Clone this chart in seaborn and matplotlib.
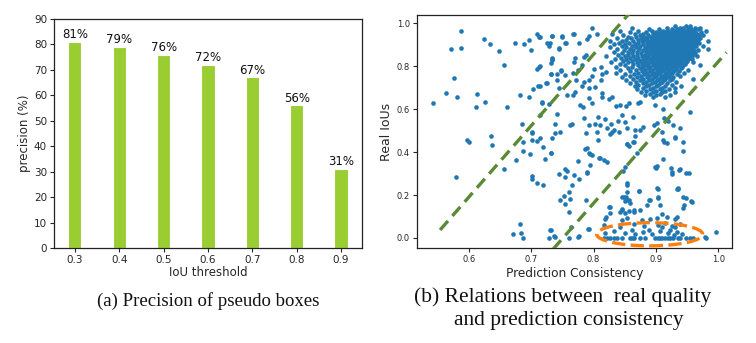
import matplotlib
matplotlib.use("Agg")
import matplotlib.pyplot as plt
from matplotlib.patches import Ellipse
import seaborn as sns
import pandas as pd

# ---- (a) precision of pseudo boxes per IoU threshold ----
iou_thresholds = ["0.3", "0.4", "0.5", "0.6", "0.7", "0.8", "0.9"]
precision = [81, 79, 76, 72, 67, 56, 31]

# ---- (b) prediction consistency vs. real IoU ----
# scattered boxes far from the dense corner
spread_pts = [
    (0.543, 0.630), (0.587, 0.964), (0.572, 0.880), (0.587, 0.887), (0.577, 0.747),
    (0.563, 0.674), (0.581, 0.655), (0.613, 0.672), (0.612, 0.612), (0.626, 0.632),
    (0.625, 0.927), (0.634, 0.902), (0.649, 0.873), (0.656, 0.806), (0.661, 0.610),
    (0.674, 0.907), (0.688, 0.903), (0.696, 0.921), (0.700, 0.876), (0.710, 0.950),
    (0.713, 0.938), (0.710, 0.787), (0.714, 0.801), (0.703, 0.694), (0.711, 0.709),
    (0.724, 0.724), (0.734, 0.943), (0.725, 0.907), (0.734, 0.829), (0.734, 0.837),
    (0.731, 0.764), (0.742, 0.736), (0.748, 0.780), (0.749, 0.938), (0.756, 0.907),
    (0.767, 0.953), (0.697, 0.659), (0.682, 0.666), (0.717, 0.629), (0.685, 0.531),
    (0.701, 0.493), (0.597, 0.457), (0.600, 0.447), (0.636, 0.475), (0.638, 0.433),
    (0.580, 0.283), (0.657, 0.321), (0.675, 0.363), (0.687, 0.446), (0.687, 0.404),
    (0.701, 0.488), (0.702, 0.457), (0.710, 0.453), (0.714, 0.466), (0.698, 0.393),
    (0.702, 0.290), (0.702, 0.273), (0.709, 0.255), (0.719, 0.425), (0.719, 0.245),
    (0.682, 0.065), (0.684, 0.022), (0.671, 0.016), (0.687, 0.000), (0.732, 0.398),
    (0.722, 0.368), (0.728, 0.000), (0.730, 0.037), (0.737, 0.011),
]

# boxes in the middle band between the two guide lines
mid_pts = [
    (0.714, 0.938), (0.730, 0.907), (0.728, 0.896), (0.734, 0.942), (0.749, 0.942),
    (0.768, 0.952), (0.755, 0.910), (0.745, 0.887), (0.744, 0.879), (0.777, 0.910),
    (0.790, 0.927), (0.797, 0.977), (0.793, 0.942), (0.806, 0.953), (0.734, 0.832),
    (0.731, 0.816), (0.748, 0.783), (0.731, 0.762), (0.742, 0.762), (0.754, 0.759),
    (0.713, 0.798), (0.714, 0.710), (0.725, 0.721), (0.744, 0.700), (0.757, 0.666),
    (0.718, 0.632), (0.728, 0.623), (0.741, 0.578), (0.714, 0.573), (0.739, 0.533),
    (0.771, 0.837), (0.768, 0.822), (0.784, 0.845), (0.788, 0.852), (0.782, 0.806),
    (0.775, 0.783), (0.767, 0.767), (0.772, 0.736), (0.784, 0.728), (0.793, 0.736),
    (0.798, 0.756), (0.801, 0.787), (0.812, 0.798), (0.814, 0.762), (0.820, 0.772),
    (0.812, 0.736), (0.802, 0.705), (0.792, 0.697), (0.782, 0.710), (0.770, 0.679),
    (0.767, 0.666), (0.779, 0.620), (0.783, 0.612), (0.793, 0.654), (0.798, 0.627),
    (0.814, 0.674), (0.814, 0.658), (0.825, 0.647), (0.830, 0.658), (0.836, 0.615),
    (0.843, 0.621), (0.852, 0.615), (0.857, 0.630), (0.872, 0.627), (0.864, 0.565),
    (0.845, 0.573), (0.839, 0.545), (0.828, 0.533), (0.819, 0.556), (0.807, 0.564),
    (0.802, 0.533), (0.810, 0.525), (0.792, 0.525), (0.784, 0.559), (0.766, 0.533),
    (0.762, 0.525), (0.746, 0.494), (0.851, 0.542), (0.854, 0.511), (0.867, 0.503),
    (0.875, 0.503), (0.822, 0.511), (0.833, 0.503),
]

# boxes with lower IoU
low_pts = [
    (0.739, 0.487), (0.734, 0.464), (0.731, 0.397), (0.788, 0.487), (0.787, 0.413),
    (0.792, 0.397), (0.798, 0.386), (0.795, 0.340), (0.775, 0.360), (0.755, 0.320),
    (0.758, 0.310), (0.745, 0.298), (0.755, 0.283), (0.768, 0.294), (0.777, 0.275),
    (0.789, 0.308), (0.766, 0.247), (0.760, 0.216), (0.752, 0.195), (0.746, 0.177),
    (0.762, 0.180), (0.754, 0.158), (0.761, 0.123), (0.807, 0.456), (0.810, 0.371),
    (0.822, 0.355), (0.826, 0.484), (0.829, 0.495), (0.840, 0.495), (0.854, 0.438),
    (0.857, 0.429), (0.865, 0.449), (0.867, 0.475), (0.869, 0.398), (0.851, 0.329),
    (0.848, 0.310), (0.854, 0.255), (0.854, 0.216), (0.852, 0.193), (0.857, 0.177),
    (0.873, 0.218), (0.845, 0.190), (0.850, 0.171), (0.845, 0.130), (0.850, 0.118),
    (0.857, 0.127), (0.865, 0.122), (0.874, 0.130), (0.826, 0.146), (0.827, 0.115),
    (0.820, 0.096), (0.791, 0.040), (0.775, 0.006), (0.764, 0.050), (0.731, 0.037),
    (0.739, 0.006), (0.760, 0.000), (0.777, 0.009), (0.790, 0.418), (0.795, 0.390),
    (0.789, 0.304), (0.809, 0.372), (0.817, 0.364), (0.805, 0.495), (0.853, 0.438),
    (0.863, 0.449), (0.854, 0.247), (0.901, 0.335), (0.900, 0.324), (0.912, 0.366),
    (0.925, 0.297), (0.937, 0.317), (0.949, 0.303), (0.953, 0.303), (0.934, 0.227),
    (0.917, 0.444), (0.931, 0.469), (0.909, 0.495), (0.899, 0.620), (0.912, 0.600),
    (0.913, 0.557), (0.920, 0.545), (0.928, 0.526), (0.939, 0.514), (0.901, 0.534),
    (0.897, 0.526), (0.879, 0.518), (0.955, 0.589), (0.911, 0.457), (0.913, 0.446),
    (0.930, 0.467), (0.944, 0.449), (0.943, 0.405), (0.899, 0.332), (0.924, 0.327),
    (0.926, 0.309), (0.938, 0.321), (0.875, 0.635), (0.788, 0.177), (0.792, 0.040),
]

# boxes with near-zero IoU despite high consistency
floor_pts = [
    (0.816, 0.000), (0.821, 0.000), (0.827, 0.000), (0.833, 0.000), (0.838, 0.000),
    (0.846, 0.000), (0.858, 0.000), (0.862, 0.000), (0.865, 0.000), (0.874, 0.000),
    (0.883, 0.000), (0.899, 0.000), (0.903, 0.000), (0.906, 0.000), (0.910, 0.000),
    (0.915, 0.000), (0.919, 0.000), (0.923, 0.000), (0.927, 0.000), (0.935, 0.000),
    (0.939, 0.000), (0.949, 0.000), (0.955, 0.000), (0.960, 0.000), (0.980, 0.000),
    (0.819, 0.025), (0.833, 0.030), (0.851, 0.022), (0.862, 0.035), (0.867, 0.020),
    (0.880, 0.028), (0.889, 0.036), (0.894, 0.018), (0.907, 0.030), (0.919, 0.024),
    (0.923, 0.037), (0.929, 0.015), (0.934, 0.028), (0.942, 0.020), (0.997, 0.029),
    (0.816, 0.060), (0.843, 0.052), (0.865, 0.066), (0.881, 0.055), (0.904, 0.062),
    (0.910, 0.050), (0.914, 0.068), (0.926, 0.057), (0.931, 0.049), (0.939, 0.064),
    (0.819, 0.088), (0.846, 0.085), (0.854, 0.092), (0.878, 0.083), (0.891, 0.090),
    (0.902, 0.095), (0.931, 0.086), (0.825, 0.143), (0.842, 0.123), (0.846, 0.133),
    (0.849, 0.192), (0.854, 0.177), (0.859, 0.161), (0.865, 0.130), (0.873, 0.220),
    (0.889, 0.177), (0.904, 0.188), (0.903, 0.227), (0.935, 0.227), (0.945, 0.154),
    (0.949, 0.188), (0.958, 0.169), (0.934, 0.099), (0.902, 0.232), (0.935, 0.232),
    (0.903, 0.189), (0.890, 0.178), (0.944, 0.189), (0.957, 0.170), (0.944, 0.139),
    (0.907, 0.155), (0.886, 0.152), (0.910, 0.110), (0.918, 0.098), (0.979, 0.002),
]

# dense corner of consistent, well-localised boxes: (IoU, [consistency values])
cluster_rows = [
    (0.988, [0.931, 0.948, 0.955]),
    (0.981, [0.862, 0.918, 0.938, 0.944, 0.962, 0.970]),
    (0.974, [0.889, 0.905, 0.926, 0.934, 0.951, 0.957, 0.968]),
    (0.967, [0.842, 0.872, 0.893, 0.912, 0.920, 0.929, 0.941, 0.946, 0.953, 0.960, 0.981]),
    (0.960, [0.858, 0.884, 0.900, 0.908, 0.916, 0.924, 0.933, 0.937, 0.944, 0.950, 0.956, 0.963, 0.972]),
    (0.953, [0.830, 0.866, 0.879, 0.895, 0.903, 0.911, 0.919, 0.927, 0.931, 0.939, 0.943, 0.948, 0.953, 0.959, 0.966]),
    (0.946, [0.847, 0.874, 0.887, 0.898, 0.906, 0.914, 0.921, 0.926, 0.934, 0.941, 0.946, 0.951, 0.957, 0.962, 0.969, 0.975]),
    (0.939, [0.855, 0.868, 0.881, 0.892, 0.901, 0.909, 0.917, 0.924, 0.929, 0.936, 0.939, 0.944, 0.949, 0.955, 0.960, 0.966]),
    (0.932, [0.838, 0.860, 0.876, 0.886, 0.896, 0.904, 0.912, 0.919, 0.927, 0.932, 0.938, 0.942, 0.947, 0.952, 0.958, 0.963, 0.971]),
    (0.925, [0.852, 0.871, 0.883, 0.893, 0.899, 0.908, 0.915, 0.923, 0.929, 0.935, 0.940, 0.945, 0.950, 0.956, 0.961, 0.967]),
    (0.918, [0.826, 0.845, 0.864, 0.878, 0.889, 0.902, 0.911, 0.918, 0.925, 0.931, 0.937, 0.943, 0.948, 0.953, 0.959, 0.964, 0.984]),
    (0.911, [0.840, 0.857, 0.872, 0.885, 0.895, 0.905, 0.914, 0.921, 0.928, 0.934, 0.940, 0.946, 0.951, 0.956, 0.962, 0.969]),
    (0.904, [0.833, 0.850, 0.866, 0.879, 0.891, 0.899, 0.909, 0.916, 0.923, 0.930, 0.936, 0.942, 0.948, 0.954, 0.960]),
    (0.897, [0.845, 0.861, 0.875, 0.887, 0.896, 0.904, 0.912, 0.919, 0.926, 0.933, 0.939, 0.945, 0.950, 0.957, 0.964, 0.975]),
    (0.890, [0.826, 0.852, 0.868, 0.882, 0.892, 0.901, 0.908, 0.915, 0.922, 0.929, 0.935, 0.941, 0.947, 0.953, 0.960]),
    (0.883, [0.838, 0.858, 0.873, 0.886, 0.897, 0.905, 0.913, 0.920, 0.927, 0.933, 0.939, 0.944, 0.950, 0.956, 0.984]),
    (0.876, [0.849, 0.864, 0.879, 0.890, 0.900, 0.909, 0.917, 0.924, 0.931, 0.937, 0.943, 0.949, 0.955, 0.961, 0.967]),
    (0.869, [0.832, 0.855, 0.870, 0.884, 0.895, 0.904, 0.912, 0.919, 0.926, 0.933, 0.940, 0.946, 0.952, 0.958]),
    (0.862, [0.846, 0.862, 0.876, 0.889, 0.899, 0.907, 0.915, 0.922, 0.929, 0.936, 0.943, 0.949, 0.956, 0.963]),
    (0.855, [0.839, 0.856, 0.869, 0.882, 0.894, 0.903, 0.911, 0.918, 0.925, 0.932, 0.939, 0.945, 0.952, 0.960]),
    (0.848, [0.820, 0.851, 0.864, 0.877, 0.888, 0.898, 0.907, 0.915, 0.922, 0.929, 0.936, 0.942, 0.949, 0.955, 0.966]),
    (0.841, [0.844, 0.858, 0.872, 0.884, 0.894, 0.903, 0.911, 0.919, 0.926, 0.933, 0.940, 0.947, 0.953]),
    (0.834, [0.835, 0.852, 0.866, 0.879, 0.890, 0.899, 0.908, 0.916, 0.923, 0.930, 0.937, 0.944, 0.951, 0.958]),
    (0.827, [0.848, 0.861, 0.874, 0.886, 0.896, 0.905, 0.913, 0.920, 0.928, 0.935, 0.942, 0.950]),
    (0.820, [0.828, 0.855, 0.869, 0.881, 0.892, 0.901, 0.910, 0.918, 0.925, 0.933, 0.940, 0.948, 0.960]),
    (0.813, [0.842, 0.864, 0.877, 0.888, 0.898, 0.907, 0.915, 0.923, 0.931, 0.939, 0.946]),
    (0.806, [0.851, 0.872, 0.884, 0.895, 0.904, 0.912, 0.920, 0.929, 0.937, 0.944, 0.970]),
    (0.799, [0.836, 0.862, 0.879, 0.891, 0.901, 0.910, 0.918, 0.926, 0.934, 0.942]),
    (0.792, [0.855, 0.874, 0.887, 0.898, 0.907, 0.916, 0.924, 0.932, 0.940]),
    (0.785, [0.843, 0.868, 0.883, 0.894, 0.904, 0.913, 0.921, 0.930, 0.952]),
    (0.778, [0.858, 0.878, 0.890, 0.901, 0.910, 0.919, 0.928, 0.937]),
    (0.771, [0.836, 0.872, 0.886, 0.897, 0.907, 0.916, 0.925, 0.945]),
    (0.764, [0.850, 0.865, 0.881, 0.893, 0.904, 0.914, 0.923, 0.933]),
    (0.757, [0.858, 0.876, 0.889, 0.900, 0.911, 0.921, 0.938]),
    (0.750, [0.845, 0.870, 0.885, 0.897, 0.908, 0.918, 0.928]),
    (0.743, [0.863, 0.880, 0.893, 0.905, 0.915, 0.926, 0.960]),
    (0.736, [0.852, 0.874, 0.889, 0.901, 0.912, 0.923]),
    (0.729, [0.868, 0.884, 0.898, 0.910, 0.932]),
    (0.722, [0.858, 0.879, 0.894, 0.907, 0.918]),
    (0.715, [0.872, 0.889, 0.904, 0.925]),
    (0.708, [0.866, 0.884, 0.900, 0.915, 0.940]),
    (0.701, [0.879, 0.895, 0.910, 0.930]),
    (0.694, [0.870, 0.890, 0.906, 0.921]),
    (0.687, [0.884, 0.900, 0.915]),
    (0.680, [0.876, 0.895, 0.910, 0.930]),
    (0.673, [0.890, 0.906]),
    (0.666, [0.882, 0.900, 0.922]),
    (0.656, [0.895, 0.915]),
    # the most crowded part of the corner
    (0.957, [0.904, 0.913, 0.922, 0.935, 0.941, 0.947, 0.954, 0.962]),
    (0.950, [0.899, 0.907, 0.915, 0.923, 0.929, 0.937, 0.944, 0.950, 0.956, 0.963]),
    (0.943, [0.905, 0.913, 0.920, 0.927, 0.933, 0.942, 0.947, 0.953, 0.958]),
    (0.936, [0.900, 0.908, 0.916, 0.922, 0.930, 0.935, 0.941, 0.945, 0.950, 0.955, 0.961]),
    (0.929, [0.895, 0.903, 0.911, 0.919, 0.926, 0.933, 0.938, 0.943, 0.948, 0.953, 0.958, 0.964]),
    (0.922, [0.906, 0.914, 0.921, 0.928, 0.934, 0.940, 0.946, 0.951, 0.956, 0.961]),
    (0.915, [0.898, 0.907, 0.915, 0.924, 0.930, 0.936, 0.942, 0.949, 0.954, 0.960, 0.966]),
    (0.908, [0.902, 0.911, 0.918, 0.925, 0.932, 0.939, 0.944, 0.949, 0.958]),
    (0.901, [0.895, 0.905, 0.913, 0.920, 0.928, 0.935, 0.941, 0.946, 0.952, 0.957]),
    (0.894, [0.899, 0.908, 0.916, 0.923, 0.930, 0.937, 0.943, 0.948, 0.955]),
    (0.887, [0.903, 0.911, 0.918, 0.925, 0.931, 0.937, 0.942, 0.947, 0.953]),
    (0.880, [0.895, 0.905, 0.914, 0.921, 0.928, 0.935, 0.940, 0.946, 0.952]),
    (0.873, [0.900, 0.909, 0.916, 0.923, 0.930, 0.936, 0.943, 0.949]),
    (0.866, [0.902, 0.910, 0.918, 0.925, 0.932, 0.939, 0.945]),
    (0.859, [0.905, 0.913, 0.921, 0.928, 0.935, 0.942]),
    (0.852, [0.900, 0.909, 0.917, 0.924, 0.931, 0.938]),
]

# two dashed guide lines and the highlighted low-IoU group
upper_guide_x = [0.554, 0.870]
upper_guide_y = [0.037, 1.089]
lower_guide_x = [0.735, 1.013]
lower_guide_y = [-0.053, 0.865]
ring_center = (0.890, 0.017)
ring_width, ring_height = 0.170, 0.108

# ---- assemble the scatter table ----
cluster_pts = [(c, iou) for iou, cs in cluster_rows for c in cs]
all_pts = spread_pts + mid_pts + low_pts + floor_pts + cluster_pts
scatter_df = pd.DataFrame(all_pts, columns=["consistency", "iou"])

sns.set_theme(style="ticks", context="paper")
plt.rcParams["font.family"] = ["DejaVu Sans"]
plt.rcParams["axes.edgecolor"] = "#222222"
plt.rcParams["axes.linewidth"] = 0.9

fig = plt.figure(figsize=(7.56, 3.43), dpi=100)
ax_bar = fig.add_axes([0.0714, 0.277, 0.4074, 0.668])
ax_sc = fig.add_axes([0.5516, 0.277, 0.4167, 0.679])

# ---- bar chart ----
bar_df = pd.DataFrame({"threshold": iou_thresholds, "precision": precision})
sns.barplot(data=bar_df, x="threshold", y="precision", color="yellowgreen",
            saturation=1, width=0.3, ax=ax_bar)
ax_bar.bar_label(ax_bar.containers[0], labels=[f"{v}%" for v in precision],
                 padding=0.5, fontsize=8.5, color="#111111")
ax_bar.set_xlim(-0.47, 6.47)
ax_bar.set_ylim(0, 90)
ax_bar.set_yticks(range(0, 91, 10))
ax_bar.set_xlabel("IoU threshold", fontsize=8.5, labelpad=1)
ax_bar.set_ylabel("precision (%)", fontsize=8.5, labelpad=2)
ax_bar.tick_params(labelsize=7.5, length=3, width=0.8, pad=2)

# ---- scatter chart ----
sns.scatterplot(data=scatter_df, x="consistency", y="iou", s=11,
                color="#1f77b4", linewidth=0, ax=ax_sc, zorder=2)
ax_sc.plot(upper_guide_x, upper_guide_y, color="#5a8a35", lw=2.4,
           linestyle=(0, (3.6, 2.0)), zorder=3)
ax_sc.plot(lower_guide_x, lower_guide_y, color="#5a8a35", lw=2.4,
           linestyle=(0, (3.6, 2.0)), zorder=3)
ax_sc.add_patch(Ellipse(ring_center, ring_width, ring_height, fill=False,
                        edgecolor="#ff7f0e", lw=2.4, linestyle=(0, (4.0, 1.6)),
                        zorder=4))
ax_sc.set_xlim(0.517, 1.022)
ax_sc.set_ylim(-0.047, 1.039)
ax_sc.set_xticks([0.6, 0.7, 0.8, 0.9, 1.0])
ax_sc.set_yticks([0.0, 0.2, 0.4, 0.6, 0.8, 1.0])
ax_sc.set_xlabel("Prediction Consistency", fontsize=8.7, labelpad=2)
ax_sc.set_ylabel("Real IoUs", fontsize=9, labelpad=3)
ax_sc.tick_params(labelsize=6, length=3, width=0.8, pad=2)

# ---- captions ----
cap = dict(family="Liberation Serif", ha="center", va="center", color="#111111")
fig.text(208 / 756, 1 - 301 / 343, "(a) Precision of pseudo boxes",
         fontsize=13.5, **cap)
fig.text(563 / 756, 1 - 297 / 343, "(b) Relations between  real quality",
         fontsize=15.5, **cap)
fig.text(569 / 756, 1 - 320 / 343, "and prediction consistency",
         fontsize=15.5, **cap)

fig.savefig("out.png", dpi=100)
